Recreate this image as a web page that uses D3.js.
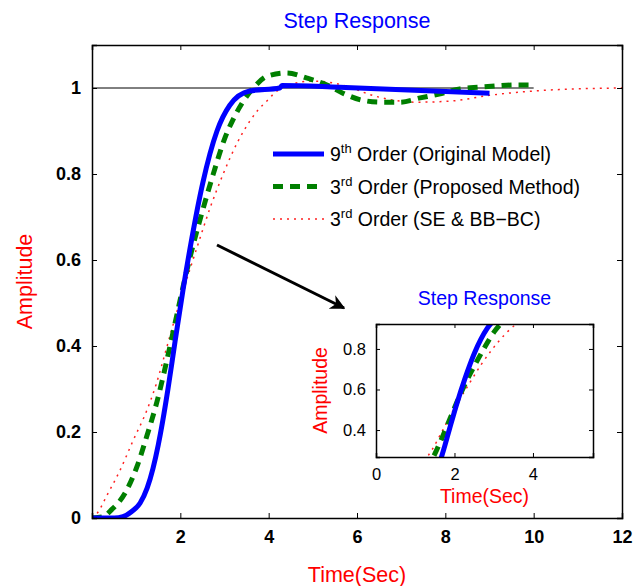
<!DOCTYPE html>
<html>
<head>
<meta charset="utf-8">
<script src="https://d3js.org/d3.v7.min.js"></script>
<style>
body { margin: 0; background: #fff; }
text { font-family: "Liberation Sans", Arial, sans-serif; }
</style>
</head>
<body>
<svg width="644" height="586"></svg>
<script>
// step response samples: [time, amplitude]
var order9 = [[0,0],[0.5,0],[0.7,0.003],[0.9,0.015],[1.09,0.035],[1.25,0.07],[1.38,0.115],[1.5,0.17],
  [1.6,0.225],[1.72,0.3],[1.88,0.41],[2.06,0.53],[2.26,0.65],[2.51,0.78],[2.83,0.9],[3.12,0.96],
  [3.57,0.993],[4.25,1.0],[4.3,1.006],[5.6,1.002],[9.0,0.988]];
var proposed3 = [[0,0],[0.25,0.003],[0.45,0.02],[0.75,0.058],[1.02,0.12],[1.24,0.19],[1.47,0.27],[1.68,0.36],
  [1.88,0.453],[2.06,0.537],[2.26,0.623],[2.49,0.71],[2.74,0.798],[3.01,0.884],[3.19,0.926],[3.4,0.965],
  [3.67,1.002],[3.98,1.028],[4.41,1.035],[4.87,1.023],[5.32,1.007],[5.68,0.988],[6.1,0.972],[6.54,0.967],
  [6.97,0.967],[7.43,0.977],[7.86,0.986],[8.33,0.998],[8.78,1.002],[9.17,1.005],[9.6,1.007],[9.9,1.007]];
var sebb3 = [[0,0],[0.11,0.01],[0.34,0.053],[0.63,0.11],[0.93,0.18],[1.24,0.25],[1.45,0.31],[1.62,0.37],
  [1.81,0.44],[2.06,0.527],[2.38,0.63],[2.67,0.72],[2.97,0.8],[3.3,0.875],[3.58,0.924],[3.76,0.949],
  [3.96,0.97],[4.1,0.985],[4.26,0.998],[4.55,1.01],[5.0,1.016],[5.55,1.01],[5.73,1.005],[6.45,0.98],
  [7.36,0.967],[8.17,0.97],[9.0,0.983],[10,0.993],[11,0.998],[12,1.0]];

var xTicks = [2, 4, 6, 8, 10, 12];
var yTicks = [0, 0.2, 0.4, 0.6, 0.8, 1];
var insetXTicks = [0, 2, 4];
var insetYTicks = [0.4, 0.6, 0.8];

var series = [
  {name: "9", sup: "th", rest: " Order (Original Model)", data: order9, color: "#0000ff", width: 5, dash: null},
  {name: "3", sup: "rd", rest: " Order (Proposed Method)", data: proposed3, color: "#007f00", width: 5, dash: "10,7"},
  {name: "3", sup: "rd", rest: " Order (SE & BB\u2212BC)", data: sebb3, color: "#ff2020", width: 1.5, dash: "2,5"}
];

var svg = d3.select("svg");

function drawPanel(opt) {
  var x = d3.scaleLinear().domain(opt.xd).range([opt.left, opt.right]);
  var y = d3.scaleLinear().domain(opt.yd).range([opt.bottom, opt.top]);
  var g = svg.append("g");

  g.append("clipPath").attr("id", opt.id)
    .append("rect")
    .attr("x", opt.left).attr("y", opt.top)
    .attr("width", opt.right - opt.left).attr("height", opt.bottom - opt.top);

  var line = d3.line()
    .x(function(d) { return x(d[0]); })
    .y(function(d) { return y(d[1]); })
    .curve(d3.curveMonotoneX);

  var plot = g.append("g").attr("clip-path", "url(#" + opt.id + ")");

  if (opt.refLine) {
    plot.append("line")
      .attr("x1", x(0)).attr("x2", x(10))
      .attr("y1", y(1)).attr("y2", y(1))
      .attr("stroke", "#000").attr("stroke-width", 1);
  }

  series.slice().reverse().forEach(function(s) {
    plot.append("path")
      .datum(s.data)
      .attr("d", line)
      .attr("fill", "none")
      .attr("stroke", s.color)
      .attr("stroke-width", s.width)
      .attr("stroke-dasharray", s.dash);
  });

  var tl = opt.tickLen;
  var bottomAxis = d3.axisBottom(x).tickValues(opt.xt).tickSize(-tl).tickPadding(tl + 7).tickFormat(d3.format("d"));
  var topAxis = d3.axisTop(x).tickValues(opt.xt).tickSize(-tl).tickFormat("");
  var leftAxis = d3.axisLeft(y).tickValues(opt.yt).tickSize(-tl).tickPadding(tl + 6).tickFormat(function(d) { return d3.format("")(+d.toFixed(1)); });
  var rightAxis = d3.axisRight(y).tickValues(opt.yt).tickSize(-tl).tickFormat("");

  g.append("g").attr("transform", "translate(0," + opt.bottom + ")").call(bottomAxis);
  g.append("g").attr("transform", "translate(0," + opt.top + ")").call(topAxis);
  g.append("g").attr("transform", "translate(" + opt.left + ",0)").call(leftAxis);
  g.append("g").attr("transform", "translate(" + opt.right + ",0)").call(rightAxis);

  g.selectAll(".domain").attr("stroke", "#000").attr("stroke-width", opt.frame);
  g.selectAll(".tick line").attr("stroke", "#000");
  g.selectAll(".tick text")
    .attr("fill", "#000")
    .style("font-size", opt.tickFont + "px")
    .style("font-weight", opt.bold ? "bold" : "normal");

  var cx = (opt.left + opt.right) / 2;
  g.append("text").attr("x", cx).attr("y", opt.titleY)
    .attr("text-anchor", "middle").attr("fill", "#0000ff")
    .style("font-size", opt.labelFont + "px").text("Step Response");
  g.append("text").attr("x", cx).attr("y", opt.xLabelY)
    .attr("text-anchor", "middle").attr("fill", "#ff0000")
    .style("font-size", opt.labelFont + "px").text("Time(Sec)");
  g.append("text")
    .attr("transform", "translate(" + opt.yLabelX + "," + ((opt.top + opt.bottom) / 2) + ") rotate(-90)")
    .attr("text-anchor", "middle").attr("fill", "#ff0000")
    .style("font-size", opt.labelFont + "px").text("Amplitude");
}

drawPanel({
  id: "mainClip", left: 92, right: 622, top: 45, bottom: 518,
  xd: [0, 12], yd: [0, 1.1], xt: xTicks, yt: yTicks,
  tickLen: 5, tickFont: 18, bold: true, frame: 1.5, refLine: true,
  titleY: 28, xLabelY: 582, yLabelX: 32, labelFont: 21.5
});

// arrow pointing at the zoomed inset
svg.append("defs").append("marker")
  .attr("id", "head").attr("viewBox", "0 0 10 10")
  .attr("refX", 9).attr("refY", 5)
  .attr("markerWidth", 5).attr("markerHeight", 5)
  .attr("orient", "auto")
  .append("path").attr("d", "M0,0 L10,5 L0,10 L3,5 Z").attr("fill", "#000");
svg.append("line")
  .attr("x1", 217).attr("y1", 245).attr("x2", 344).attr("y2", 308)
  .attr("stroke", "#000").attr("stroke-width", 3)
  .attr("marker-end", "url(#head)");

// legend, no box
var legend = svg.append("g");
series.forEach(function(s, i) {
  var ly = 154 + i * 32.5;
  legend.append("line")
    .attr("x1", 273).attr("x2", 324).attr("y1", ly).attr("y2", ly)
    .attr("stroke", s.color).attr("stroke-width", s.width)
    .attr("stroke-dasharray", s.dash);
  var t = legend.append("text").attr("x", 330).attr("y", ly + 7)
    .attr("fill", "#000").style("font-size", "19.5px");
  t.append("tspan").text(s.name);
  t.append("tspan").attr("dy", -8).style("font-size", "13px").text(s.sup);
  t.append("tspan").attr("dy", 8).text(s.rest);
});

drawPanel({
  id: "insetClip", left: 376, right: 593, top: 324, bottom: 457,
  xd: [0, 5.53], yd: [0.267, 0.923], xt: insetXTicks, yt: insetYTicks,
  tickLen: 4, tickFont: 16.5, bold: false, frame: 1.5, refLine: false,
  titleY: 305, xLabelY: 503, yLabelX: 327, labelFont: 19.5
});
</script>
</body>
</html>
